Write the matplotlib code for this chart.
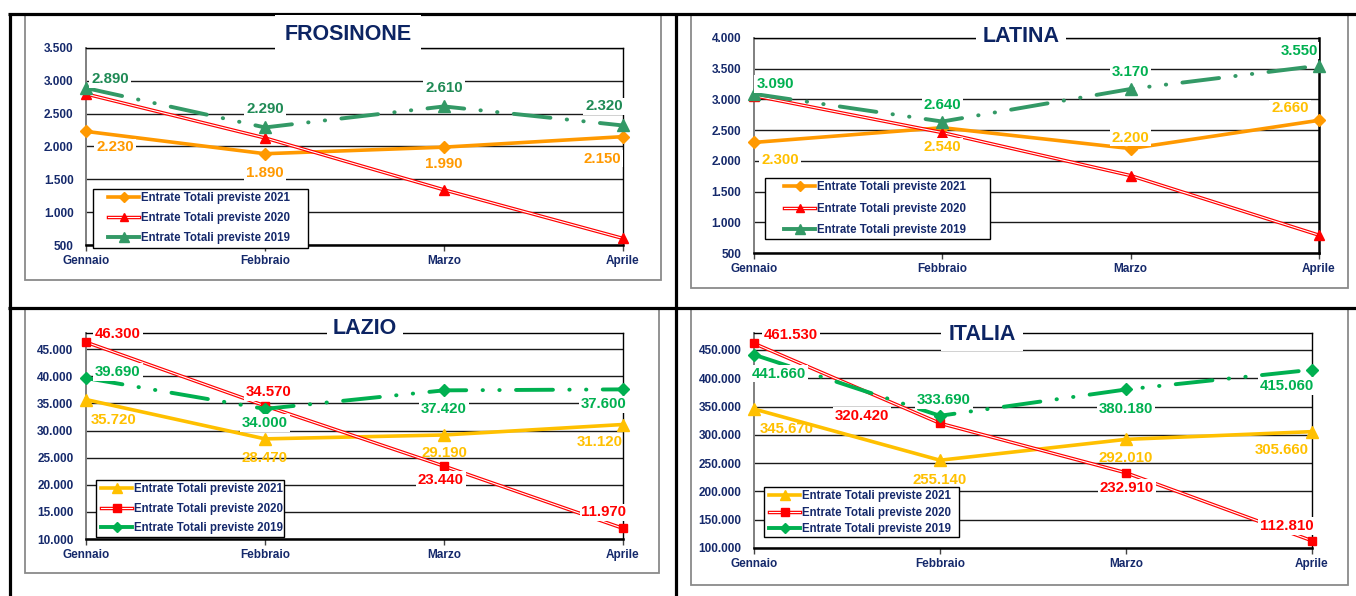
import matplotlib
matplotlib.use('Agg')
import matplotlib.pyplot as plt
from matplotlib.lines import Line2D
from matplotlib.patches import Rectangle
from matplotlib.legend_handler import HandlerTuple

plt.rcParams['font.family'] = ['Liberation Sans', 'DejaVu Sans']

# ---------------- data ----------------
months = ['Gennaio', 'Febbraio', 'Marzo', 'Aprile']
series_names = ['Entrate Totali previste 2021',
                'Entrate Totali previste 2020',
                'Entrate Totali previste 2019']

fro_2021 = [2230, 1890, 1990, 2150]
fro_2020 = [2800, 2130, 1340, 600]
fro_2019 = [2890, 2290, 2610, 2320]

lat_2021 = [2300, 2540, 2200, 2660]
lat_2020 = [3060, 2460, 1760, 790]
lat_2019 = [3090, 2640, 3170, 3550]

laz_2021 = [35720, 28470, 29190, 31120]
laz_2020 = [46300, 34570, 23440, 11970]
laz_2019 = [39690, 34000, 37420, 37600]

ita_2021 = [345670, 255140, 292010, 305660]
ita_2020 = [461530, 320420, 232910, 112810]
ita_2019 = [441660, 333690, 380180, 415060]

fro_yticks = list(range(500, 3501, 500))
lat_yticks = list(range(500, 4001, 500))
laz_yticks = list(range(10000, 45001, 5000))
ita_yticks = list(range(100000, 450001, 50000))

# ---------------- style ----------------
W, H = 1356, 596
NAVY = '#15296B'
TNAVY = '#0C2463'
ORANGE = '#FF9900'
GOLD = '#FFC000'
RED = '#FF0000'
SEA = '#339966'
GREEN = '#00B050'


def fmt(v):
    return f"{v:,.0f}".replace(',', '.')


def rect(l, t, r, b):
    return [l / W, 1 - b / H, (r - l) / W, (b - t) / H]


fig = plt.figure(figsize=(W / 100, H / 100), dpi=100)

# page table lines
for (x0, y0, x1, y1) in [(8, 14, 1356, 14), (8, 308, 1356, 308),
                         (10, 14, 10, 596), (676, 14, 676, 596)]:
    fig.add_artist(Line2D([x0 / W, x1 / W], [1 - y0 / H, 1 - y1 / H],
                          transform=fig.transFigure, color='black', lw=2.3,
                          solid_capstyle='butt'))

panels = [
    dict(title='FROSINONE', ax=(86, 48, 623, 245), frame=(25, 15, 661, 280),
         tpos=(348, 35), tpad=7, ylim=(500, 3500), yticks=fro_yticks,
         leg=(93, 189, 308, 248), hoff=15, lspace=0.68, rspine=1.0,
         series=[
             (fro_2021, ORANGE, ORANGE, 'D', 6.5, 'solid',
              [(29, 16), (0, 19), (0, 17), (-21, 22)], True),
             (fro_2020, RED, RED, '^', 6.5, 'double', None, True),
             (fro_2019, SEA, '#1F8A55', '^', 9, 'dashdot',
              [(24, -9), (0, -18), (0, -18), (-19, -19)], True),
         ]),
    dict(title='LATINA', ax=(754, 38, 1319, 253), frame=(691, 15, 1348, 288),
         tpos=(1021, 36), tpad=5, ylim=(500, 4000), yticks=lat_yticks,
         leg=(765, 178, 990, 239), hoff=19, lspace=0.79, rspine=1.8,
         series=[
             (lat_2021, ORANGE, GOLD, 'D', 6.5, 'solid',
              [(26, 18), (0, 19), (0, -11), (-29, -12)], True),
             (lat_2020, RED, RED, '^', 6.5, 'double', None, True),
             (lat_2019, SEA, GREEN, '^', 9, 'dashdot',
              [(21, -10), (0, -17), (0, -17), (-20, -15)], True),
         ]),
    dict(title='LAZIO', ax=(86, 333, 623, 539), frame=(25, 309, 659, 573),
         tpos=(365, 329), tpad=4, ylim=(10000, 48000), yticks=laz_yticks,
         leg=(96, 480, 284, 537), hoff=5, lspace=0.63, rspine=1.0,
         series=[
             (laz_2021, GOLD, GOLD, '^', 8.5, 'solid',
              [(28, 20), (0, 19), (0, 18), (-23, 17)], False),
             (laz_2020, RED, RED, 's', 6, 'double',
              [(32, -8), (4, -14), (-3, 14), (-19, -16)], True),
             (laz_2019, GREEN, GREEN, 'D', 6, 'dashdot',
              [(32, -6), (0, 14), (0, 19), (-19, 15)], True),
         ]),
    dict(title='ITALIA', ax=(754, 333, 1312, 548), frame=(691, 309, 1348, 585),
         tpos=(982, 334), tpad=5, ylim=(100000, 480000), yticks=ita_yticks,
         leg=(764, 487, 959, 537), hoff=5, lspace=0.37, rspine=1.0,
         series=[
             (ita_2021, GOLD, GOLD, '^', 8.5, 'solid',
              [(33, 20), (0, 20), (0, 19), (-30, 18)], False),
             (ita_2020, RED, RED, 's', 6, 'double',
              [(37, -8), (-78, -7), (1, 15), (-25, -15)], True),
             (ita_2019, GREEN, GREEN, 'D', 6, 'dashdot',
              [(25, 19), (4, -16), (0, 20), (-25, 16)], True),
         ]),
]

DASH = (9.5, 4.2, 0.1, 4.2, 0.1, 4.2)
x = list(range(len(months)))

for p in panels:
    # chart frame
    l, t, r, b = p['frame']
    fig.add_artist(Rectangle((l / W, 1 - b / H), (r - l) / W, (b - t) / H,
                             transform=fig.transFigure, fill=False,
                             edgecolor='#8A8A8A', lw=1.3, zorder=0.5))
    ax = fig.add_axes(rect(*p['ax']))
    ax.set_xlim(0, len(months) - 1)
    ax.set_ylim(*p['ylim'])
    ax.set_yticks(p['yticks'])
    ax.set_yticklabels([fmt(v) for v in p['yticks']])
    ax.set_xticks(x)
    ax.set_xticklabels(months)
    ax.tick_params(axis='y', length=0, pad=9, labelsize=8.5, labelcolor=NAVY)
    ax.tick_params(axis='x', length=4, width=1, direction='out', pad=3,
                   labelsize=8.5, labelcolor=NAVY, color='#444444')
    for lab in ax.get_xticklabels() + ax.get_yticklabels():
        lab.set_fontweight('bold')
    ax.yaxis.grid(True, color='#1A1A1A', lw=1.0)
    ax.set_axisbelow(True)
    ax.spines['left'].set_color('#7F7F7F')
    ax.spines['left'].set_linewidth(1.4)
    ax.spines['bottom'].set_color('black')
    ax.spines['bottom'].set_linewidth(1.8)
    ax.spines['top'].set_color('black')
    ax.spines['top'].set_linewidth(1.0)
    ax.spines['right'].set_color('black')
    ax.spines['right'].set_linewidth(p['rspine'])

    handles = []
    for k, (vals, col, lcol, mk, ms, kind, offs, bg) in enumerate(p['series']):
        z = 3 + k
        if kind == 'solid':
            ax.plot(x, vals, color=col, lw=2.6, marker=mk, ms=ms, mfc=col,
                    mec=col, zorder=z, clip_on=False)
            h = Line2D([], [], color=col, lw=2.6, marker=mk, ms=ms * 0.85,
                       mfc=col, mec=col)
        elif kind == 'double':
            ax.plot(x, vals, color=col, lw=2.5, zorder=z, clip_on=False,
                    solid_capstyle='butt')
            ax.plot(x, vals, color='white', lw=0.8, zorder=z + 0.1,
                    clip_on=False, solid_capstyle='butt')
            ax.plot(x, vals, ls='none', marker=mk, ms=ms, mfc=col, mec=col,
                    zorder=z + 0.2, clip_on=False)
            h = (Line2D([], [], color=col, lw=2.5),
                 Line2D([], [], color='white', lw=0.8),
                 Line2D([], [], ls='none', marker=mk, ms=ms * 0.9, mfc=col,
                        mec=col))
        else:
            ax.plot(x, vals, color=col, lw=2.8, dashes=DASH,
                    dash_capstyle='round', zorder=z, clip_on=False)
            ax.plot(x, vals, ls='none', marker=mk, ms=ms, mfc=col, mec=col,
                    zorder=z + 0.1, clip_on=False)
            h = Line2D([], [], color=col, lw=2.8, marker=mk, ms=ms * 0.85,
                       mfc=col, mec=col)
        handles.append(h)
        if offs is not None:
            for i, v in enumerate(vals):
                dx, dy = offs[i]
                kw = {}
                if bg:
                    kw['bbox'] = dict(boxstyle='square,pad=0.12', fc='white',
                                      ec='none')
                ax.annotate(fmt(v), xy=(i, v), xytext=(dx, -dy),
                            textcoords='offset pixels', ha='center',
                            va='center', fontsize=10.8, fontweight='bold',
                            color=lcol, zorder=8, annotation_clip=False, **kw)

    # title with white box over the top border
    tx, ty = p['tpos']
    fig.text(tx / W, 1 - ty / H, p['title'], ha='center', va='center',
             fontsize=15.5, fontweight='bold', color=TNAVY, zorder=6,
             bbox=dict(boxstyle='square,pad=%.2f' % (p['tpad'] / 15.5),
                       fc='white', ec='none'))

    # legend: white box + figure legend on top
    ll, lt, lr, lb = p['leg']
    fig.add_artist(Rectangle((ll / W, 1 - lb / H), (lr - ll) / W, (lb - lt) / H,
                             transform=fig.transFigure, facecolor='white',
                             edgecolor='black', lw=1.0, zorder=4))
    leg = fig.legend(handles, series_names, loc='upper left',
                     bbox_to_anchor=((ll + p['hoff'] - 3.5) / W, 1 - lt / H),
                     bbox_transform=fig.transFigure, frameon=False,
                     borderaxespad=0, borderpad=0.3, handlelength=2.7,
                     handletextpad=0.2, labelspacing=p['lspace'],
                     prop=dict(weight='bold', size=8.3), labelcolor=NAVY,
                     handler_map={tuple: HandlerTuple(ndivide=1, pad=0)})
    leg.set_zorder(5)

fig.savefig('out.png', dpi=100)
